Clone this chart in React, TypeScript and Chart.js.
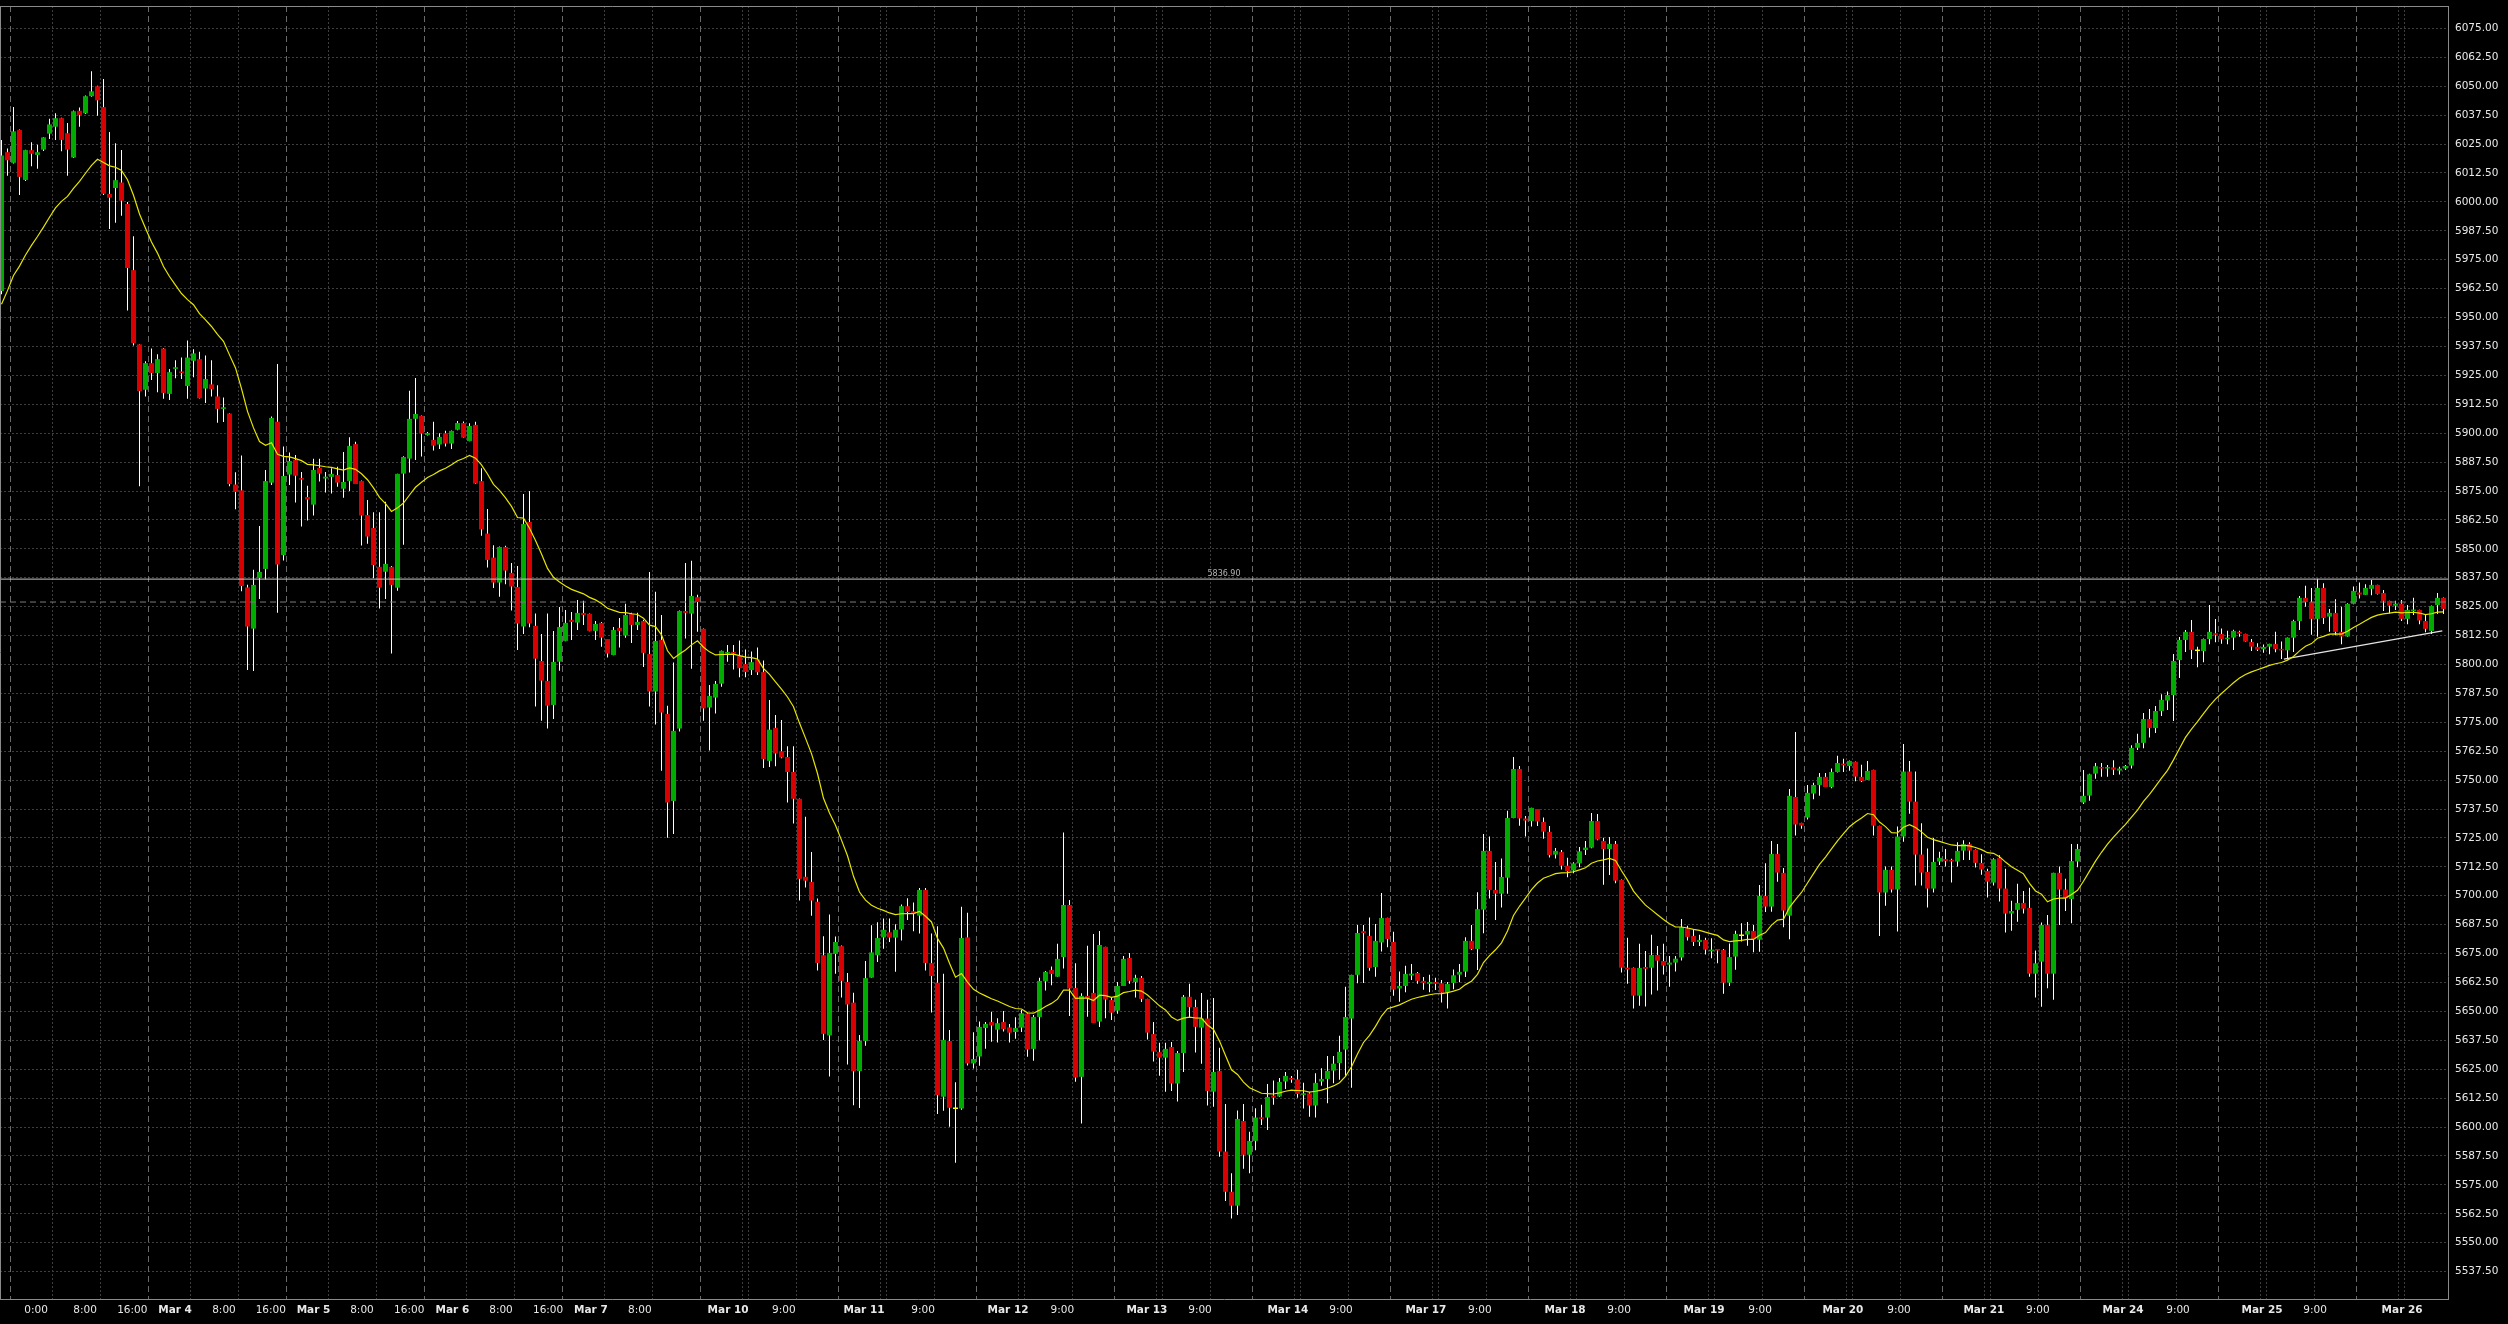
import React, { useEffect, useRef } from 'react';
import { Chart, registerables } from 'chart.js';

Chart.register(...registerables);

// ---- OHLC data, one hourly bar per entry (bar index 0..407) ----
const opens = [
  5961.5, 6021.5, 6016.9, 6031.1, 6009.5, 6022.4, 6020.3, 6022.6, 6029.5, 6032.5,
  6036.2, 6029.7, 6019.2, 6039.4, 6038.3, 6045.7, 6050.0, 6041.0, 6003.4, 6006.0,
  6008.4, 5999.1, 5970.5, 5938.4, 5918.8, 5930.3, 5926.0, 5936.6, 5917.0, 5927.8,
  5926.7, 5920.4, 5931.3, 5932.0, 5919.3, 5921.1, 5915.9, 5910.5, 5908.5, 5877.8,
  5875.3, 5833.3, 5815.5, 5837.4, 5841.3, 5878.6, 5904.9, 5847.3, 5882.1, 5888.4,
  5880.6, 5872.4, 5869.1, 5885.0, 5880.4, 5881.1, 5881.9, 5876.0, 5879.3, 5895.3,
  5879.3, 5864.6, 5859.0, 5842.2, 5840.1, 5842.2, 5833.2, 5882.5, 5889.0, 5906.2,
  5907.5, 5899.2, 5897.1, 5895.1, 5900.0, 5895.5, 5901.5, 5904.4, 5896.6, 5903.6,
  5879.3, 5856.6, 5846.2, 5835.4, 5850.8, 5839.6, 5833.5, 5816.4, 5861.6, 5816.7,
  5801.5, 5792.9, 5782.5, 5801.2, 5810.2, 5819.3, 5818.1, 5822.3, 5821.9, 5814.5,
  5818.0, 5811.0, 5804.1, 5815.8, 5812.5, 5821.9, 5817.1, 5818.8, 5804.5, 5788.3,
  5810.6, 5778.6, 5741.0, 5772.3, 5823.1, 5822.0, 5829.1, 5815.4, 5781.4, 5785.7,
  5791.7, 5804.7, 5805.4, 5803.6, 5800.2, 5797.6, 5802.2, 5796.7, 5758.3, 5772.6,
  5762.5, 5760.0, 5753.5, 5741.9, 5708.2, 5706.0, 5697.4, 5674.3, 5639.6, 5674.8,
  5678.2, 5662.7, 5653.8, 5624.2, 5637.2, 5664.6, 5674.3, 5682.0, 5684.2, 5681.9,
  5685.4, 5695.5, 5693.3, 5691.4, 5702.5, 5670.9, 5662.4, 5613.1, 5637.2, 5607.8,
  5608.0, 5682.0, 5627.5, 5630.5, 5642.8, 5645.4, 5642.1, 5645.4, 5643.1, 5641.1,
  5643.0, 5649.0, 5633.8, 5647.6, 5663.0, 5667.9, 5665.0, 5673.5, 5696.0, 5660.1,
  5621.7, 5656.7, 5658.0, 5645.6, 5677.9, 5654.9, 5650.3, 5661.0, 5673.1, 5662.7,
  5664.5, 5655.4, 5640.2, 5632.4, 5630.0, 5634.6, 5618.8, 5632.0, 5656.3, 5651.9,
  5643.0, 5646.9, 5615.3, 5624.3, 5589.4, 5572.0, 5566.0, 5602.6, 5588.0, 5594.0,
  5604.2, 5604.1, 5613.6, 5613.2, 5619.7, 5621.2, 5620.6, 5613.9, 5614.5, 5609.3,
  5619.7, 5620.8, 5624.4, 5627.7, 5633.5, 5646.9, 5665.8, 5684.7, 5682.6, 5669.2,
  5679.8, 5690.4, 5680.0, 5659.9, 5661.0, 5665.5, 5666.6, 5663.2, 5661.9, 5662.7,
  5662.2, 5658.4, 5662.3, 5665.9, 5667.2, 5680.5, 5677.0, 5694.0, 5719.4, 5702.5,
  5700.9, 5707.8, 5733.6, 5754.8, 5733.4, 5732.3, 5737.5, 5731.9, 5727.6, 5717.8,
  5718.9, 5713.0, 5710.9, 5714.0, 5719.8, 5720.8, 5732.3, 5723.7, 5720.2, 5722.4,
  5706.8, 5668.9, 5668.8, 5656.8, 5669.2, 5668.9, 5674.4, 5671.8, 5670.2, 5671.1,
  5673.3, 5685.9, 5682.6, 5680.0, 5680.9, 5676.0, 5677.0, 5676.6, 5662.4, 5673.7,
  5682.6, 5683.2, 5684.8, 5681.0, 5699.9, 5695.3, 5718.1, 5709.9, 5691.4, 5742.7,
  5731.5, 5733.8, 5744.2, 5747.9, 5751.4, 5747.0, 5753.5, 5757.1, 5756.1, 5757.9,
  5751.4, 5750.1, 5754.4, 5730.2, 5701.4, 5711.2, 5702.7, 5725.6, 5753.7, 5740.7,
  5717.8, 5710.3, 5703.1, 5714.8, 5715.9, 5715.5, 5714.8, 5719.5, 5722.3, 5719.8,
  5714.2, 5710.7, 5705.7, 5716.3, 5703.1, 5692.3, 5693.9, 5696.9, 5694.7, 5666.3,
  5671.5, 5687.4, 5666.3, 5709.9, 5702.7, 5698.6, 5714.8, 5740.3, 5743.3, 5752.8,
  5755.5, 5755.0, 5755.5, 5754.1, 5755.0, 5756.3, 5764.0, 5766.1, 5776.4, 5772.5,
  5779.9, 5784.4, 5786.8, 5801.9, 5810.6, 5814.1, 5805.8, 5805.8, 5811.0, 5813.5,
  5813.2, 5810.9, 5811.6, 5814.1, 5813.2, 5809.7, 5807.6, 5806.6, 5807.7, 5808.9,
  5806.7, 5806.1, 5811.6, 5818.8, 5828.8, 5827.0, 5819.7, 5833.1, 5820.7, 5822.3,
  5814.1, 5812.1, 5826.2, 5831.1, 5830.1, 5832.7, 5834.4, 5830.9, 5827.5, 5825.4,
  5826.3, 5819.7, 5823.1, 5823.6, 5818.8, 5814.5, 5825.7, 5828.8,
];

const highs = [
  6026.8, 6023.1, 6041.0, 6031.3, 6022.6, 6025.8, 6024.7, 6028.0, 6036.0, 6038.3,
  6036.4, 6034.1, 6039.5, 6040.8, 6046.0, 6056.5, 6050.2, 6053.1, 6030.2, 6025.4,
  6022.4, 6000.0, 5985.2, 5938.5, 5931.1, 5936.6, 5934.1, 5936.8, 5927.8, 5931.5,
  5932.7, 5940.1, 5936.3, 5935.2, 5933.6, 5931.5, 5920.7, 5915.4, 5908.6, 5883.1,
  5890.4, 5834.5, 5840.9, 5859.9, 5884.1, 5907.2, 5929.9, 5894.2, 5891.7, 5890.6,
  5883.2, 5877.3, 5888.9, 5888.9, 5883.2, 5884.8, 5885.5, 5891.9, 5898.2, 5896.3,
  5879.5, 5871.1, 5865.8, 5865.8, 5870.4, 5842.6, 5882.5, 5890.0, 5918.3, 5923.9,
  5907.6, 5900.5, 5904.9, 5900.0, 5901.0, 5901.2, 5905.3, 5905.0, 5904.3, 5904.9,
  5884.8, 5867.2, 5851.5, 5851.0, 5851.3, 5843.9, 5842.6, 5873.7, 5875.0, 5822.0,
  5813.2, 5822.0, 5814.5, 5824.9, 5823.6, 5822.7, 5827.9, 5827.5, 5822.0, 5818.8,
  5818.4, 5811.0, 5816.2, 5820.1, 5826.2, 5822.4, 5822.4, 5819.3, 5840.0, 5831.4,
  5821.4, 5782.2, 5800.8, 5823.3, 5843.9, 5844.8, 5830.1, 5815.5, 5791.1, 5792.9,
  5806.0, 5808.4, 5808.4, 5810.4, 5806.5, 5805.6, 5807.3, 5801.7, 5784.6, 5778.1,
  5776.0, 5764.6, 5764.6, 5742.0, 5734.2, 5718.9, 5698.8, 5682.5, 5691.9, 5682.4,
  5678.5, 5666.6, 5658.1, 5639.8, 5671.8, 5687.3, 5688.5, 5690.2, 5690.2, 5687.7,
  5696.2, 5698.9, 5697.1, 5703.4, 5703.4, 5683.7, 5686.8, 5666.3, 5642.0, 5619.4,
  5695.2, 5692.6, 5641.0, 5645.6, 5645.4, 5649.8, 5647.0, 5650.2, 5644.6, 5647.5,
  5650.6, 5649.2, 5648.4, 5664.6, 5667.5, 5669.4, 5679.2, 5727.4, 5698.2, 5670.8,
  5657.8, 5678.4, 5683.5, 5684.8, 5678.0, 5655.8, 5662.7, 5674.0, 5675.3, 5665.8,
  5665.3, 5655.5, 5645.4, 5636.4, 5636.4, 5636.8, 5632.9, 5657.1, 5661.9, 5655.0,
  5658.0, 5655.0, 5655.8, 5634.3, 5610.0, 5580.0, 5607.1, 5610.0, 5598.0, 5608.1,
  5609.6, 5618.6, 5620.1, 5621.2, 5623.8, 5622.1, 5624.7, 5619.2, 5615.0, 5623.3,
  5625.4, 5630.7, 5630.7, 5639.5, 5660.7, 5665.8, 5687.4, 5687.4, 5690.6, 5687.8,
  5701.2, 5690.5, 5684.4, 5667.2, 5669.7, 5670.5, 5667.0, 5664.9, 5665.8, 5664.5,
  5663.6, 5662.7, 5668.1, 5670.5, 5682.1, 5687.4, 5701.5, 5726.7, 5725.6, 5714.6,
  5716.1, 5736.7, 5760.0, 5756.1, 5734.5, 5738.0, 5737.5, 5733.8, 5730.2, 5720.7,
  5719.8, 5716.4, 5714.5, 5721.1, 5723.7, 5735.8, 5735.4, 5725.1, 5725.4, 5723.7,
  5707.0, 5681.8, 5669.0, 5679.2, 5676.1, 5683.1, 5678.3, 5679.2, 5674.0, 5674.0,
  5690.0, 5687.0, 5685.2, 5683.1, 5681.8, 5681.6, 5677.0, 5677.0, 5679.4, 5684.9,
  5688.1, 5688.7, 5687.4, 5704.7, 5714.0, 5723.7, 5722.4, 5712.0, 5746.2, 5770.8,
  5731.6, 5747.9, 5748.9, 5753.1, 5753.1, 5755.0, 5760.5, 5759.2, 5758.5, 5758.0,
  5756.6, 5758.3, 5754.5, 5730.3, 5712.6, 5712.6, 5729.9, 5765.6, 5758.3, 5753.7,
  5731.3, 5720.4, 5725.0, 5719.0, 5720.2, 5716.0, 5723.1, 5724.0, 5723.1, 5720.0,
  5717.9, 5711.7, 5716.2, 5717.5, 5711.7, 5697.8, 5705.2, 5702.1, 5703.5, 5676.3,
  5688.4, 5691.7, 5710.0, 5712.6, 5707.3, 5722.4, 5722.4, 5754.4, 5752.7, 5757.4,
  5757.4, 5756.5, 5758.6, 5755.8, 5756.5, 5765.1, 5770.0, 5779.0, 5780.8, 5782.0,
  5787.1, 5788.3, 5804.5, 5811.9, 5814.9, 5819.2, 5807.7, 5811.2, 5825.7, 5819.7,
  5815.6, 5814.6, 5815.0, 5814.6, 5813.3, 5811.0, 5809.2, 5808.6, 5809.0, 5814.1,
  5809.9, 5811.7, 5819.3, 5829.6, 5834.0, 5833.1, 5837.1, 5835.1, 5824.0, 5828.2,
  5825.0, 5826.5, 5833.7, 5835.4, 5834.7, 5836.5, 5834.5, 5832.2, 5827.6, 5827.5,
  5827.9, 5825.7, 5828.8, 5823.7, 5821.4, 5825.5, 5830.9, 5829.0,
];

const lows = [
  5960.1, 6011.3, 6016.6, 6003.0, 6009.0, 6015.4, 6014.3, 6022.0, 6027.2, 6026.8,
  6021.9, 6011.3, 6019.0, 6032.5, 6038.0, 6045.5, 6037.2, 6003.0, 5988.3, 5991.0,
  5994.0, 5953.0, 5937.9, 5877.1, 5915.9, 5923.0, 5917.7, 5914.9, 5914.4, 5923.7,
  5923.4, 5914.9, 5924.2, 5915.0, 5913.1, 5915.9, 5904.5, 5904.8, 5877.1, 5867.1,
  5831.7, 5797.6, 5797.2, 5828.3, 5836.7, 5877.6, 5822.4, 5844.9, 5877.6, 5870.0,
  5859.6, 5862.2, 5864.4, 5879.1, 5874.3, 5873.9, 5876.8, 5872.1, 5875.0, 5878.0,
  5851.4, 5852.2, 5837.3, 5824.2, 5828.3, 5804.7, 5831.9, 5851.8, 5883.0, 5888.4,
  5889.9, 5899.0, 5892.5, 5893.2, 5894.2, 5893.2, 5901.3, 5898.0, 5896.5, 5878.0,
  5855.7, 5841.9, 5833.1, 5829.3, 5834.7, 5823.3, 5806.3, 5813.2, 5816.1, 5781.8,
  5775.7, 5772.3, 5776.4, 5797.3, 5810.0, 5810.6, 5814.9, 5817.1, 5814.4, 5810.6,
  5807.7, 5803.0, 5804.0, 5807.3, 5811.6, 5809.3, 5814.9, 5798.9, 5781.8, 5774.0,
  5754.1, 5725.1, 5726.7, 5771.0, 5811.2, 5798.1, 5814.2, 5775.7, 5762.8, 5778.8,
  5790.4, 5801.2, 5797.8, 5794.5, 5794.5, 5795.4, 5795.4, 5755.2, 5755.7, 5756.0,
  5759.5, 5740.3, 5731.2, 5697.9, 5703.6, 5691.4, 5667.7, 5637.6, 5621.8, 5666.3,
  5656.0, 5627.0, 5609.4, 5608.2, 5635.2, 5664.5, 5671.4, 5677.1, 5680.0, 5667.1,
  5680.7, 5689.5, 5684.7, 5683.7, 5667.7, 5649.5, 5605.6, 5607.0, 5600.1, 5584.6,
  5607.5, 5626.6, 5625.3, 5626.5, 5633.9, 5636.9, 5636.5, 5641.3, 5636.5, 5638.2,
  5641.1, 5630.4, 5628.7, 5637.4, 5659.0, 5661.3, 5665.0, 5668.5, 5648.0, 5619.6,
  5601.5, 5647.7, 5645.0, 5643.3, 5647.0, 5646.3, 5649.0, 5661.0, 5661.9, 5656.0,
  5654.1, 5637.8, 5628.3, 5622.2, 5615.3, 5615.6, 5611.0, 5623.8, 5647.2, 5632.2,
  5627.4, 5609.3, 5608.8, 5587.2, 5568.0, 5560.5, 5562.0, 5582.0, 5580.0, 5590.0,
  5600.9, 5598.7, 5609.6, 5613.0, 5616.5, 5619.2, 5612.7, 5608.0, 5604.5, 5604.1,
  5617.9, 5610.3, 5618.9, 5620.5, 5622.2, 5617.0, 5662.2, 5662.3, 5667.6, 5665.0,
  5675.9, 5677.7, 5656.8, 5654.2, 5658.3, 5663.6, 5661.9, 5659.4, 5658.3, 5659.3,
  5653.8, 5651.2, 5659.6, 5662.6, 5664.9, 5676.6, 5667.9, 5683.8, 5698.8, 5689.5,
  5694.9, 5700.9, 5733.5, 5730.3, 5725.6, 5729.9, 5730.2, 5724.7, 5716.5, 5716.1,
  5711.3, 5708.0, 5709.7, 5712.3, 5717.6, 5720.5, 5724.0, 5704.8, 5709.0, 5705.4,
  5666.8, 5662.0, 5651.2, 5652.4, 5652.1, 5657.3, 5659.0, 5665.9, 5660.7, 5667.2,
  5672.0, 5680.6, 5678.3, 5678.3, 5674.6, 5673.0, 5670.8, 5657.6, 5661.0, 5668.0,
  5680.2, 5678.4, 5675.6, 5675.8, 5693.0, 5693.1, 5706.1, 5686.4, 5681.2, 5726.0,
  5729.0, 5733.0, 5741.7, 5743.2, 5747.0, 5746.5, 5753.3, 5753.5, 5754.0, 5749.5,
  5749.2, 5750.0, 5726.1, 5682.6, 5695.7, 5701.4, 5684.5, 5723.4, 5735.5, 5704.4,
  5704.4, 5694.9, 5701.4, 5713.3, 5712.6, 5705.7, 5712.6, 5715.5, 5715.5, 5712.2,
  5709.1, 5699.2, 5704.4, 5697.5, 5684.1, 5684.9, 5688.8, 5692.3, 5665.0, 5656.0,
  5652.0, 5660.0, 5655.0, 5687.4, 5693.4, 5688.1, 5712.3, 5739.7, 5741.1, 5750.6,
  5751.5, 5751.4, 5752.2, 5752.4, 5754.4, 5755.0, 5763.0, 5763.8, 5768.4, 5770.4,
  5777.7, 5780.3, 5775.6, 5794.2, 5805.4, 5802.4, 5798.8, 5801.0, 5808.7, 5809.6,
  5809.0, 5808.7, 5806.3, 5812.0, 5809.8, 5805.8, 5805.8, 5805.1, 5804.4, 5805.3,
  5802.4, 5802.2, 5805.4, 5814.9, 5825.0, 5812.8, 5812.0, 5817.5, 5814.1, 5812.6,
  5808.7, 5812.0, 5826.0, 5828.5, 5830.0, 5829.9, 5830.3, 5823.1, 5822.1, 5823.6,
  5818.8, 5817.4, 5821.4, 5817.4, 5813.9, 5813.2, 5821.8, 5821.8,
];

const closes = [
  6020.1, 6018.0, 6030.5, 6010.8, 6022.4, 6020.8, 6021.5, 6027.9, 6033.5, 6036.2,
  6026.8, 6022.6, 6039.2, 6037.6, 6045.7, 6047.8, 6043.9, 6003.5, 6001.8, 6009.4,
  6000.5, 5971.4, 5938.9, 5918.2, 5930.3, 5926.0, 5932.0, 5917.4, 5926.4, 5928.5,
  5926.0, 5932.7, 5934.5, 5915.1, 5923.4, 5919.0, 5910.5, 5911.2, 5878.0, 5874.6,
  5833.9, 5816.4, 5834.4, 5840.0, 5879.3, 5906.6, 5843.2, 5881.5, 5888.0, 5881.6,
  5879.9, 5871.3, 5884.1, 5882.5, 5881.2, 5882.4, 5878.6, 5878.9, 5894.5, 5878.0,
  5864.4, 5855.3, 5843.0, 5833.2, 5843.5, 5834.4, 5882.4, 5889.7, 5906.2, 5908.3,
  5899.8, 5900.1, 5894.6, 5898.4, 5895.5, 5901.0, 5904.4, 5898.1, 5903.1, 5878.2,
  5858.4, 5845.2, 5835.4, 5850.8, 5840.6, 5833.7, 5817.7, 5860.7, 5817.7, 5802.5,
  5793.0, 5782.2, 5801.1, 5816.2, 5818.0, 5818.4, 5822.3, 5821.4, 5814.5, 5817.5,
  5811.6, 5804.7, 5814.9, 5814.5, 5821.4, 5817.1, 5818.4, 5805.0, 5788.3, 5810.2,
  5779.2, 5740.3, 5771.3, 5823.1, 5822.3, 5829.6, 5827.0, 5781.0, 5786.4, 5791.6,
  5805.9, 5805.4, 5804.7, 5798.4, 5796.7, 5801.0, 5796.6, 5759.1, 5771.8, 5761.5,
  5759.8, 5753.5, 5741.9, 5707.3, 5706.5, 5697.9, 5670.9, 5640.3, 5675.3, 5680.0,
  5663.2, 5653.0, 5624.1, 5637.2, 5664.4, 5675.5, 5681.7, 5685.3, 5681.9, 5685.3,
  5695.5, 5693.0, 5692.3, 5702.5, 5670.9, 5665.3, 5613.8, 5637.7, 5608.3, 5607.8,
  5681.7, 5627.5, 5629.4, 5643.3, 5644.6, 5643.9, 5644.9, 5642.4, 5640.8, 5642.8,
  5649.2, 5633.5, 5647.6, 5663.2, 5667.1, 5666.2, 5672.7, 5696.0, 5659.9, 5621.4,
  5656.7, 5655.7, 5645.0, 5678.7, 5655.1, 5649.4, 5661.0, 5672.7, 5663.2, 5664.5,
  5655.4, 5640.8, 5632.6, 5630.0, 5633.8, 5618.8, 5632.0, 5656.3, 5651.9, 5643.3,
  5646.9, 5615.6, 5623.8, 5589.4, 5572.0, 5566.0, 5603.5, 5588.0, 5594.0, 5604.1,
  5603.5, 5613.0, 5612.7, 5619.5, 5622.1, 5620.5, 5614.3, 5614.6, 5609.3, 5619.1,
  5620.8, 5624.3, 5627.4, 5632.5, 5647.6, 5665.8, 5683.9, 5683.9, 5668.8, 5680.5,
  5690.4, 5681.3, 5659.4, 5661.0, 5666.2, 5666.3, 5663.2, 5662.3, 5662.7, 5661.9,
  5658.1, 5661.9, 5665.6, 5667.1, 5680.5, 5677.0, 5694.2, 5719.4, 5702.5, 5700.9,
  5708.1, 5733.6, 5754.8, 5733.4, 5732.5, 5738.0, 5732.1, 5727.7, 5717.6, 5719.4,
  5713.0, 5710.6, 5714.0, 5719.2, 5720.8, 5732.3, 5724.3, 5720.2, 5722.4, 5706.5,
  5668.9, 5668.1, 5656.8, 5668.8, 5668.4, 5674.4, 5671.9, 5669.8, 5671.1, 5672.8,
  5686.4, 5682.2, 5680.0, 5680.9, 5676.7, 5676.7, 5676.3, 5662.4, 5673.5, 5683.5,
  5682.6, 5684.8, 5681.3, 5699.9, 5695.3, 5718.1, 5710.0, 5693.6, 5743.2, 5730.8,
  5730.3, 5744.5, 5747.9, 5751.4, 5747.0, 5753.5, 5757.4, 5756.4, 5758.3, 5751.5,
  5749.6, 5754.0, 5730.3, 5701.4, 5711.2, 5702.7, 5725.6, 5753.7, 5740.7, 5717.8,
  5710.0, 5703.1, 5714.6, 5716.4, 5715.0, 5714.8, 5719.4, 5722.3, 5719.5, 5714.2,
  5711.3, 5706.1, 5715.8, 5703.1, 5692.3, 5693.4, 5696.9, 5694.4, 5666.3, 5670.8,
  5687.4, 5666.3, 5709.9, 5702.7, 5698.9, 5715.0, 5720.2, 5743.2, 5752.5, 5756.0,
  5755.0, 5755.5, 5754.5, 5755.0, 5756.1, 5763.9, 5766.1, 5776.4, 5772.5, 5779.9,
  5784.7, 5786.8, 5801.5, 5810.6, 5814.1, 5806.3, 5805.8, 5811.0, 5814.1, 5812.8,
  5810.9, 5811.6, 5814.5, 5813.3, 5809.9, 5807.7, 5806.4, 5807.6, 5808.9, 5806.7,
  5806.1, 5811.6, 5818.8, 5828.8, 5827.0, 5819.7, 5833.1, 5820.1, 5822.3, 5814.1,
  5812.1, 5826.2, 5831.8, 5830.2, 5833.1, 5834.4, 5830.5, 5827.5, 5825.4, 5826.3,
  5819.7, 5823.6, 5823.7, 5819.0, 5815.4, 5825.3, 5828.8, 5824.0,
];

// Moving average (20-period exponential) drawn over the candles; value at first bar
const MA_PERIOD = 20;
const MA_START = 5955.7;

// Price axis tick labels
const yTicks = [
  5537.5, 5550, 5562.5, 5575, 5587.5, 5600, 5612.5, 5625, 5637.5, 5650, 5662.5,
  5675, 5687.5, 5700, 5712.5, 5725, 5737.5, 5750, 5762.5, 5775, 5787.5, 5800,
  5812.5, 5825, 5837.5, 5850, 5862.5, 5875, 5887.5, 5900, 5912.5, 5925, 5937.5,
  5950, 5962.5, 5975, 5987.5, 6000, 6012.5, 6025, 6037.5, 6050, 6062.5, 6075,
];

// Time axis labels (text, and bar index where each label is centred)
const xLabelText = [
  '0:00', '8:00', '16:00', 'Mar 4', '8:00', '16:00', 'Mar 5', '8:00', '16:00', 'Mar 6',
  '8:00', '16:00', 'Mar 7', '8:00', 'Mar 10', '9:00', 'Mar 11', '9:00', 'Mar 12', '9:00',
  'Mar 13', '9:00', 'Mar 14', '9:00', 'Mar 17', '9:00', 'Mar 18', '9:00', 'Mar 19', '9:00',
  'Mar 20', '9:00', 'Mar 21', '9:00', 'Mar 24', '9:00', 'Mar 25', '9:00', 'Mar 26',
];
const xLabelAt = [
  5.77, 13.93, 21.8, 28.92, 37.08, 44.88, 52.0, 60.08, 67.95, 75.15,
  83.25, 91.1, 98.23, 106.4, 121.1, 130.4, 143.75, 153.6, 167.75, 176.8,
  190.9, 199.75, 214.4, 223.25, 237.4, 246.4, 260.6, 269.6, 283.75, 293.1,
  306.9, 316.25, 330.4, 339.4, 353.6, 362.75, 376.75, 385.6, 400.1,
];

// Vertical grid lines and day separators (bar-index positions)
const gridX = [
  8.5, 16.5, 31.5, 39.5, 54.5, 62.5, 77.5, 85.5, 100.5, 108.5,
  123.5, 124.5, 132.5, 146.5, 147.5, 155.5, 169.5, 170.5, 178.5, 192.5, 193.5, 201.5,
  215.5, 216.5, 224.5, 238.5, 239.5, 247.5, 261.5, 262.5, 270.5, 284.5, 285.5, 293.5,
  307.5, 308.5, 316.5, 330.5, 331.5, 339.5, 353.5, 354.5, 362.5, 376.5, 377.5, 385.5,
  399.5, 400.5,
];
const daySeps = [
  1.5, 24.5, 47.5, 70.5, 93.5, 116.5, 139.5, 162.5, 185.5, 208.5,
  231.5, 254.5, 277.5, 300.5, 323.5, 346.5, 369.5, 392.5,
];

// Horizontal levels and trend line
const REF_LEVEL = 5836.9;
const DASH_LEVEL = 5827.0;
const trendX = [380.4, 406.8];
const trendY = [5802.3, 5814.5];

const BULL = '#00ac00';
const BEAR = '#d80000';
const DOJI = '#ffff00';
const WICK = '#ffffff';
const MA_COLOR = '#e6e600';
const GRID = '#3e3e3e';
const SEP = '#6a6a6a';
const FRAME = '#8a8a8a';
const TEXT = '#e8e8e8';
const FONT = 'DejaVu Sans';

const X_MIN = -0.25;
const X_MAX = 407.75;
const Y_MIN = 5525.65;
const Y_MAX = 6084.7;

export default function App() {
  const ref = useRef<HTMLCanvasElement | null>(null);

  useEffect(() => {
    const canvas = ref.current;
    if (!canvas) return;
    const idx = closes.map((_, i) => i);
    const alpha = 2 / (MA_PERIOD + 1);
    const ma: { x: number; y: number }[] = [];
    let prev = MA_START;
    idx.forEach((i) => {
      if (i > 0) prev = prev + alpha * (closes[i] - prev);
      ma.push({ x: i, y: prev });
    });

    const overlay = {
      id: 'mtOverlay',
      beforeDatasetsDraw(chart: any) {
        const { ctx, chartArea: a, scales } = chart;
        const xs = scales.x;
        ctx.save();
        ctx.beginPath();
        ctx.rect(a.left, a.top, a.right - a.left, a.bottom - a.top);
        ctx.clip();
        ctx.lineWidth = 1;
        ctx.strokeStyle = GRID;
        ctx.setLineDash([2, 2]);
        gridX.forEach((v) => {
          const px = Math.floor(xs.getPixelForValue(v)) + 0.5;
          ctx.beginPath();
          ctx.moveTo(px, a.top);
          ctx.lineTo(px, a.bottom);
          ctx.stroke();
        });
        ctx.strokeStyle = SEP;
        ctx.setLineDash([6, 4]);
        daySeps.forEach((v) => {
          const px = Math.floor(xs.getPixelForValue(v)) + 0.5;
          ctx.beginPath();
          ctx.moveTo(px, a.top);
          ctx.lineTo(px, a.bottom);
          ctx.stroke();
        });
        ctx.restore();
      },
      afterDraw(chart: any) {
        const { ctx, chartArea: a, scales } = chart;
        const xs = scales.x;
        const ys = scales.y;
        ctx.save();
        ctx.strokeStyle = FRAME;
        ctx.lineWidth = 1;
        ctx.setLineDash([]);
        ctx.beginPath();
        ctx.moveTo(0, a.top + 0.5);
        ctx.lineTo(a.right + 1, a.top + 0.5);
        ctx.moveTo(0.5, a.top);
        ctx.lineTo(0.5, a.bottom);
        ctx.moveTo(0, a.bottom + 0.5);
        ctx.lineTo(a.right + 1, a.bottom + 0.5);
        ctx.stroke();

        ctx.fillStyle = TEXT;
        ctx.textAlign = 'center';
        ctx.textBaseline = 'middle';
        xLabelText.forEach((t, i) => {
          ctx.font = (t.startsWith('Mar') ? 'bold ' : '') + '10.5px "' + FONT + '"';
          ctx.fillText(t, xs.getPixelForValue(xLabelAt[i]), a.bottom + 11);
        });

        ctx.font = '8px "' + FONT + '"';
        ctx.fillStyle = '#b4b4b4';
        ctx.textBaseline = 'bottom';
        ctx.fillText(REF_LEVEL.toFixed(2), (a.left + a.right) / 2, ys.getPixelForValue(REF_LEVEL) - 1);
        ctx.restore();
      },
    };

    const chart = new Chart(canvas, {
      type: 'bar',
      data: {
        datasets: [
          {
            type: 'line',
            label: 'EMA 20',
            data: ma,
            borderColor: MA_COLOR,
            borderWidth: 1.2,
            pointRadius: 0,
            tension: 0,
            order: 0,
          } as any,
          {
            type: 'line',
            label: 'Trend',
            data: trendX.map((x, i) => ({ x, y: trendY[i] })),
            borderColor: '#e4e4e4',
            borderWidth: 1.4,
            pointRadius: 0,
            order: 1,
          } as any,
          {
            type: 'line',
            label: 'Level',
            data: [{ x: X_MIN, y: REF_LEVEL }, { x: X_MAX, y: REF_LEVEL }],
            borderColor: '#c8c8c8',
            borderWidth: 1,
            pointRadius: 0,
            order: 2,
          } as any,
          {
            type: 'line',
            label: 'Price',
            data: [{ x: X_MIN, y: DASH_LEVEL }, { x: X_MAX, y: DASH_LEVEL }],
            borderColor: '#7a7a7a',
            borderWidth: 1,
            borderDash: [6, 4],
            pointRadius: 0,
            order: 2,
          } as any,
          {
            type: 'bar',
            label: 'Body',
            data: idx.map((i) => ({ x: i, y: [opens[i], closes[i]] })),
            backgroundColor: idx.map((i) =>
              closes[i] > opens[i] ? BULL : closes[i] < opens[i] ? BEAR : DOJI
            ),
            barThickness: 5,
            grouped: false,
            minBarLength: 1.5,
            inflateAmount: 0,
            borderWidth: 0,
            order: 3,
          } as any,
          {
            type: 'bar',
            label: 'Wick',
            data: idx.map((i) => ({ x: i, y: [lows[i], highs[i]] })),
            backgroundColor: WICK,
            barThickness: 1,
            grouped: false,
            inflateAmount: 0,
            borderWidth: 0,
            order: 4,
          } as any,
        ],
      },
      options: {
        responsive: false,
        animation: false,
        devicePixelRatio: 1,
        events: [],
        layout: { padding: { left: 0, right: 0, top: 6, bottom: 25 } },
        plugins: { legend: { display: false }, tooltip: { enabled: false } },
        scales: {
          x: { type: 'linear', min: X_MIN, max: X_MAX, display: false, offset: false },
          y: {
            type: 'linear',
            position: 'right',
            min: Y_MIN,
            max: Y_MAX,
            afterBuildTicks: (s: any) => {
              s.ticks = yTicks.map((v) => ({ value: v }));
            },
            afterFit: (s: any) => {
              s.width = 60;
              s.paddingTop = 0;
              s.paddingBottom = 0;
            },
            grid: { color: GRID, lineWidth: 1, drawTicks: false },
            border: { display: true, color: FRAME, width: 1, dash: [2, 2] },
            ticks: {
              color: TEXT,
              font: { family: FONT, size: 10.5 },
              padding: 7,
              autoSkip: false,
              callback: (v: any) => Number(v).toFixed(2),
            },
          },
        },
      } as any,
      plugins: [overlay],
    });
    return () => chart.destroy();
  }, []);

  return (
    <div style={{ position: 'fixed', left: 0, top: 0, width: 2508, height: 1324, background: '#000', overflow: 'hidden' }}>
      <canvas ref={ref} width={2508} height={1324} style={{ display: 'block' }} />
    </div>
  );
}
